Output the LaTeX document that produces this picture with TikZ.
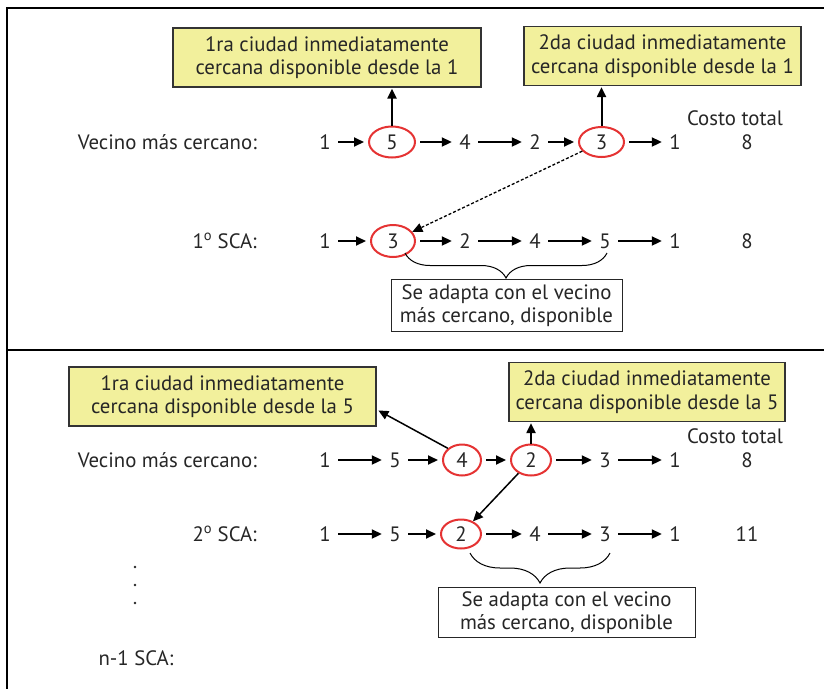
\documentclass[tikz,border=0pt]{standalone}
\usepackage{fontspec}
\setmainfont{PT Sans}
\usetikzlibrary{arrows.meta,shapes.geometric,decorations.pathreplacing,positioning}
\definecolor{notefill}{HTML}{F2F09C}
\definecolor{cityred}{HTML}{E53333}
\begin{document}
\begin{tikzpicture}[x=1pt,y=-1pt,
    every node/.style={font=\fontsize{20.8}{23.5}\selectfont, text=black!85},
    note/.style={draw=black!80, line width=1.2pt, fill=notefill, align=center, inner sep=0pt, minimum height=59pt},
    remark/.style={draw=black!85, line width=1pt, fill=white, align=center, inner sep=0pt, minimum height=52pt},
    city/.style={ellipse, draw=cityred, line width=2pt, inner sep=0pt},
    lbl/.style={anchor=east, inner sep=0pt},
    arr/.style={-{Triangle[length=10pt,width=9pt]}, line width=2pt, shorten <=4pt, shorten >=4pt},
    brc/.style={decorate, decoration={brace, mirror, amplitude=25pt}, line width=1pt}]
    \useasboundingbox (0,0) rectangle (824,689);

    % frame
    \draw[line width=2pt] (824,8) -- (7,8) -- (7,689);
    \draw[line width=2pt] (7,350) -- (824,350);

    % upper part
    \node[note, minimum width=308pt] (nt1) at (327,57.5) {1ra ciudad inmediatamente\\cercana disponible desde la 1};
    \node[note, minimum width=277pt] (nt2) at (662.5,56) {2da ciudad inmediatamente\\cercana disponible desde la 1};
    \node (ct1) at (735,118) {Costo total};

    \node[lbl] (vc1) at (257,142) {Vecino más cercano:};
    \node (p1) at (325,142) {1};
    \node[city, minimum width=46pt, minimum height=31pt] (p5) at (392,142) {5};
    \node (p4) at (465,142) {4};
    \node (p2) at (535,142) {2};
    \node[city, minimum width=45pt, minimum height=30pt] (p3) at (601.5,142) {3};
    \node (p1e) at (675,142) {1};
    \node (pc) at (747,142) {8};
    \draw[arr] (p1) -- (p5);
    \draw[arr] (p5) -- (p4);
    \draw[arr] (p4) -- (p2);
    \draw[arr] (p2) -- (p3);
    \draw[arr] (p3) -- (p1e);
    \draw[arr, shorten <=0pt, shorten >=1pt] (p5.north) -- (p5.north |- nt1.south);
    \draw[arr, shorten <=0pt, shorten >=1pt] (p3.north) -- (p3.north |- nt2.south);

    \node[lbl] (sa1) at (257,241) {1\textsuperscript{o} SCA:};
    \node (q1) at (325,241) {1};
    \node[city, minimum width=44pt, minimum height=32pt] (q3) at (393,241) {3};
    \node (q2) at (465,241) {2};
    \node (q4) at (535,241) {4};
    \node (q5) at (605,241) {5};
    \node (q1e) at (675,241) {1};
    \node (qc) at (747,241) {8};
    \draw[arr] (q1) -- (q3);
    \draw[arr] (q3) -- (q2);
    \draw[arr] (q2) -- (q4);
    \draw[arr] (q4) -- (q5);
    \draw[arr] (q5) -- (q1e);
    \draw[arr, line width=1.3pt, dash pattern=on 3pt off 2pt, shorten <=0pt, shorten >=0pt] (p3) -- (q3);

    \draw[brc] (405,253) -- (607,253);
    \node[remark, minimum width=231pt, anchor=north] (rm1) at (506.5,279) {Se adapta con el vecino\\más cercano, disponible};

    % lower part
    \node[note, minimum width=307pt] (nt3) at (222.5,396.5) {1ra ciudad inmediatamente\\cercana disponible desde la 5};
    \node[note, minimum width=276pt] (nt4) at (647,392) {2da ciudad inmediatamente\\cercana disponible desde la 5};
    \node (ct2) at (735,436) {Costo total};

    \node[lbl] (vc2) at (257,460) {Vecino más cercano:};
    \node (r1) at (325,460) {1};
    \node (r5) at (395,460) {5};
    \node[city, minimum width=38pt, minimum height=31pt] (r4) at (462,460) {4};
    \node[city, minimum width=40pt, minimum height=31pt] (r2) at (531,460) {2};
    \node (r3) at (605,460) {3};
    \node (r1e) at (675,460) {1};
    \node (rc) at (747,460) {8};
    \draw[arr] (r1) -- (r5);
    \draw[arr] (r5) -- (r4);
    \draw[arr] (r4) -- (r2);
    \draw[arr] (r2) -- (r3);
    \draw[arr] (r3) -- (r1e);
    \draw[arr, line width=1.5pt, shorten <=0pt, shorten >=2pt] (r4.north west) -- ([yshift=-13pt]nt3.east);
    \draw[arr, shorten <=0pt, shorten >=1pt] (r2.north) -- (r2.north |- nt4.south);

    \node[lbl] (sa2) at (257,534) {2\textsuperscript{o} SCA:};
    \node (s1) at (325,534) {1};
    \node (s5) at (395,534) {5};
    \node[city, minimum width=40pt, minimum height=29pt] (s2) at (461,534) {2};
    \node (s4) at (535,534) {4};
    \node (s3) at (605,534) {3};
    \node (s1e) at (675,534) {1};
    \node (sc) at (747,534) {11};
    \draw[arr] (s1) -- (s5);
    \draw[arr] (s5) -- (s2);
    \draw[arr] (s2) -- (s4);
    \draw[arr] (s4) -- (s3);
    \draw[arr] (s3) -- (s1e);
    \draw[arr, line width=1.5pt, shorten <=0pt, shorten >=0pt] (r2) -- (s2);

    \draw[brc, decoration={amplitude=30pt}] (470,553) -- (610,553);
    \node[remark, minimum width=257pt, minimum height=50pt, anchor=north] (rm2) at (566.5,587) {Se adapta con el vecino\\más cercano, disponible};

    \fill[black!85] (135,567) circle (1.3pt) (135,585) circle (1.3pt) (135,603) circle (1.3pt);
    \node (sn) at (136,658) {n-1 SCA:};
\end{tikzpicture}
\end{document}
